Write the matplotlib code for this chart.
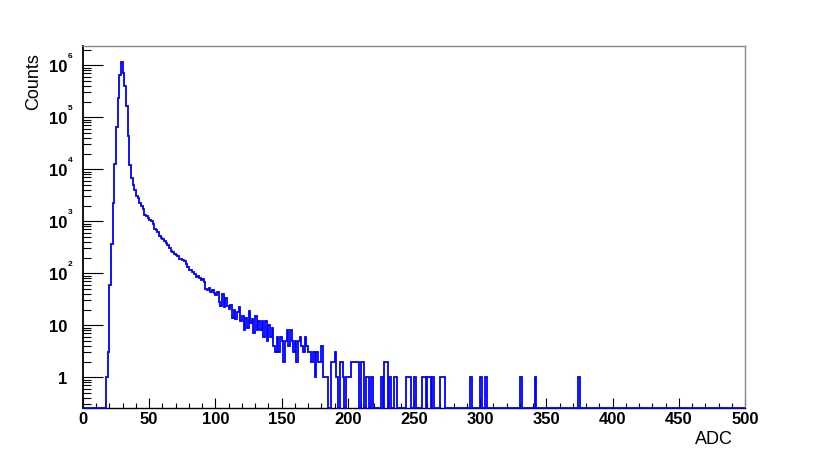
import numpy as np
import matplotlib
matplotlib.use("Agg")
import matplotlib.pyplot as plt
from matplotlib.ticker import LogLocator, MultipleLocator, FixedLocator, NullFormatter
import matplotlib.transforms as mtransforms

plt.rcParams['font.family'] = ['Liberation Sans', 'DejaVu Sans']

# histogram: 400 bins of 1.25 ADC between 0 and 500
bin_width = 1.25
n_bins = 400
core_adc0 = 17.5   # ADC of first filled bin
core_counts = [
    1, 3, 60, 360, 2200, 12500, 65000, 235000, 650000, 1140000,
    720000, 400000, 165000, 44000, 12000, 6800, 5000, 4000, 3100, 2800,
    2250, 2000, 1700, 1300, 1250, 1150, 1050, 1000, 900, 720,
    680, 620, 520, 480, 450, 410, 390, 350, 300, 270,
    255, 240, 225, 215, 190, 185, 180, 170, 150, 135,
    115, 118, 105, 95, 86, 90, 80, 74, 76, 69,
    50, 47, 52, 44, 47, 41, 38, 44, 28, 24,
    40, 22, 33, 23, 21, 25, 14, 20, 13, 18,
    22, 12, 15, 8, 14, 9, 19, 11, 13, 7,
    15, 8, 12, 8, 12, 6, 12, 5, 10, 6,
    9, 4, 3, 6, 3, 6, 5, 2, 5, 8,
    4, 8, 5, 3, 5, 2, 5, 6, 4, 3,
    6, 4, 3, 3, 2, 3, 1, 3, 2, 2,
    4, 1, 1, 1, 0, 0, 2, 2, 3, 1,
    0, 2, 2, 1, 0, 1, 1, 1, 2, 2,
    2, 2, 2, 0, 2, 2, 0, 1, 1, 0,
    1,
]
tail_adc = [225.0, 227.5, 228.75, 231.25, 235.0, 236.25, 243.75, 245.0, 246.25,
            250.0, 256.25, 257.5, 260.0, 261.25, 263.75, 270.0, 271.25, 272.5,
            292.5, 300.0, 303.75, 330.0, 341.25, 373.75]
tail_counts = [1, 2, 2, 1, 1, 1, 1, 1, 1,
               1, 1, 1, 1, 1, 1, 1, 1, 1,
               1, 1, 1, 1, 1, 1]

ytick_vals = [1, 10, 1e2, 1e3, 1e4, 1e5, 1e6]
ytick_base = ['1', '10', '10', '10', '10', '10', '10']
ytick_exp = ['', '', '2', '3', '4', '5', '6']

counts = np.zeros(n_bins)
i0 = int(round(core_adc0 / bin_width))
counts[i0:i0 + len(core_counts)] = core_counts
for a, c in zip(tail_adc, tail_counts):
    counts[int(round(a / bin_width))] = c
edges = np.arange(n_bins + 1) * bin_width

ymin, ymax = 0.253, 2.32e6

fig = plt.figure(figsize=(8.3, 4.56), dpi=100)
ax = fig.add_axes([0.1, 0.1024, 0.7976, 0.7939])

# empty bins drawn along the bottom of the frame like ROOT does
ax.stairs(np.where(counts > 0, counts, ymin), edges, color='#0000ff', lw=1.3,
          baseline=None, zorder=3, clip_on=False)

ax.set_yscale('log')
ax.set_xlim(0, 500)
ax.set_ylim(ymin, ymax)

ax.xaxis.set_major_locator(MultipleLocator(50))
ax.xaxis.set_minor_locator(MultipleLocator(10))
ax.yaxis.set_major_locator(FixedLocator(ytick_vals))
ax.yaxis.set_minor_locator(LogLocator(base=10, subs=np.arange(2, 10)))
ax.yaxis.set_minor_formatter(NullFormatter())
ax.set_yticklabels(ytick_base)

ax.tick_params(axis='x', which='major', direction='in', length=7, width=0.8,
               labelsize=12, pad=2, top=False)
ax.tick_params(axis='x', which='minor', direction='in', length=3.6, width=0.8, top=False)
ax.tick_params(axis='y', which='major', direction='in', length=14.5, width=0.8,
               labelsize=12, pad=11, right=False)
ax.tick_params(axis='y', which='minor', direction='in', length=6, width=0.8, right=False)
for lab in ax.get_xticklabels() + ax.get_yticklabels():
    lab.set_fontweight('bold')

# small exponents next to the "10" labels
trans = mtransforms.blended_transform_factory(ax.transAxes, ax.transData)
for v, e in zip(ytick_vals, ytick_exp):
    if e:
        ax.annotate(e, xy=(0, v), xycoords=trans, xytext=(-9, 7),
                    textcoords='offset points', ha='center', va='center',
                    fontsize=6, fontweight='bold')

ax.spines['left'].set_linewidth(1.3)
ax.spines['bottom'].set_linewidth(1.0)
ax.spines['top'].set_color('#888888')
ax.spines['right'].set_color('#888888')
ax.spines['top'].set_linewidth(1.0)
ax.spines['right'].set_linewidth(1.0)

fig.text(33.5 / 830, 1 - 53 / 456, 'Counts', rotation=90, ha='center', va='top',
         fontsize=13)
fig.text(733 / 830, 1 - 440 / 456, 'ADC', ha='right', va='center', fontsize=13)

fig.savefig('out.png', dpi=100)
